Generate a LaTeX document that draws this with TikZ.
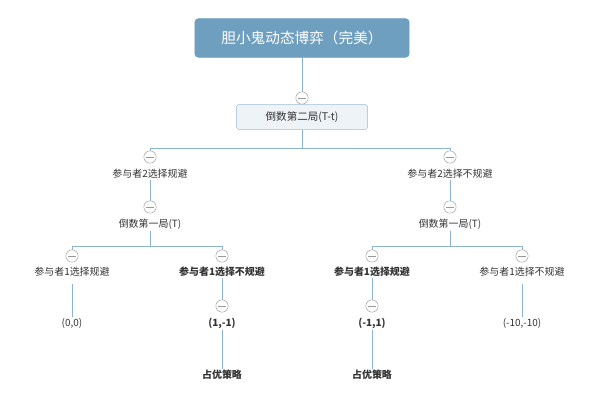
\documentclass[tikz,border=0pt]{standalone}
\usepackage{fontspec}
\setmainfont{Noto Sans CJK SC}
\usetikzlibrary{positioning}
\definecolor{rootblue}{HTML}{6F9FBF}
\definecolor{boxfill}{HTML}{EEF3F8}
\definecolor{boxline}{HTML}{9BBBD4}
\definecolor{linkblue}{HTML}{8DB4CF}
\definecolor{txtgray}{HTML}{333333}
\tikzset{
  root/.style={draw=rootblue, fill=rootblue, rounded corners=3pt, text=white, font=\fontsize{12.5}{12.5}\selectfont, minimum width=183pt, minimum height=33pt},
  sub/.style={draw=boxline, fill=boxfill, rounded corners=1.5pt, text=txtgray, font=\fontsize{9}{9}\selectfont, minimum width=112pt, minimum height=21pt},
  lbl/.style={text=txtgray, font=\fontsize{8.5}{8.5}\selectfont, inner sep=1pt},
  blbl/.style={lbl, font=\fontsize{8.5}{8.5}\selectfont\bfseries},
  fold/.style={circle, draw=gray!80, fill=white, minimum size=10.5pt, inner sep=0pt,
    path picture={\draw[gray!80] ([xshift=-3.2pt]path picture bounding box.center) -- ([xshift=3.2pt]path picture bounding box.center);}},
  link/.style={draw=linkblue, line width=0.8pt}
}
\begin{document}
\begin{tikzpicture}[x=0.03cm, y=-0.03cm]
\useasboundingbox (0,0) rectangle (600,402);

% Root and second-last round
\node[root] (root) at (302,38) {胆小鬼动态博弈（完美）};
\node[fold] (f0) at (302,98) {};
\node[sub] (tt) at (302,117) {倒数第二局(T-t)};
\draw[link] (root) -- (f0);
\coordinate (split0) at (302,148);
\draw[link] (tt) -- (split0);
\draw[link] (150,148) -- (450,148);

% Player 2 choices
\node[fold] (fa) at (150,157) {};
\node[fold] (fb) at (450,157) {};
\draw[link] (150,148) -- (fa);
\draw[link] (450,148) -- (fb);
\node[lbl] (p2a) at (150,174) {参与者2选择规避};
\node[lbl] (p2b) at (450,174) {参与者2选择不规避};
\node[fold] (fa1) at (150,207) {};
\node[fold] (fb1) at (450,207) {};
\draw[link] (p2a) -- (fa1);
\draw[link] (p2b) -- (fb1);
\node[lbl] (ta) at (150,224) {倒数第一局(T)};
\node[lbl] (tb) at (450,224) {倒数第一局(T)};
\coordinate (splita) at (150,246);
\coordinate (splitb) at (450,246);
\draw[link] (ta) -- (splita);
\draw[link] (tb) -- (splitb);
\draw[link] (72,246) -- (222,246);
\draw[link] (372,246) -- (522,246);

% Player 1 choices
\node[fold] (g1) at (72,256) {};
\node[fold] (g2) at (222,256) {};
\node[fold] (g3) at (372,256) {};
\node[fold] (g4) at (522,256) {};
\draw[link] (72,246) -- (g1);
\draw[link] (222,246) -- (g2);
\draw[link] (372,246) -- (g3);
\draw[link] (522,246) -- (g4);
\node[lbl] (c1) at (72,272) {参与者1选择规避};
\node[blbl] (c2) at (222,272) {参与者1选择不规避};
\node[blbl] (c3) at (372,272) {参与者1选择规避};
\node[lbl] (c4) at (522,272) {参与者1选择不规避};

% Payoffs
\node[lbl] (r1) at (72,323) {(0,0)};
\node[blbl] (r2) at (222,323) {(1,-1)};
\node[blbl] (r3) at (372,323) {(-1,1)};
\node[lbl] (r4) at (522,323) {(-10,-10)};
\node[fold] (h2) at (222,306) {};
\node[fold] (h3) at (372,306) {};
\coordinate (c1b) at (72,284);
\coordinate (c4b) at (522,284);
\draw[link] (c1b) -- (r1);
\draw[link] (c4b) -- (r4);
\draw[link] (c2) -- (h2);
\draw[link] (c3) -- (h3);

% Dominant strategy
\node[blbl] (d2) at (222,375) {占优策略};
\node[blbl] (d3) at (372,375) {占优策略};
\draw[link] (r2) -- (d2);
\draw[link] (r3) -- (d3);
\end{tikzpicture}
\end{document}
